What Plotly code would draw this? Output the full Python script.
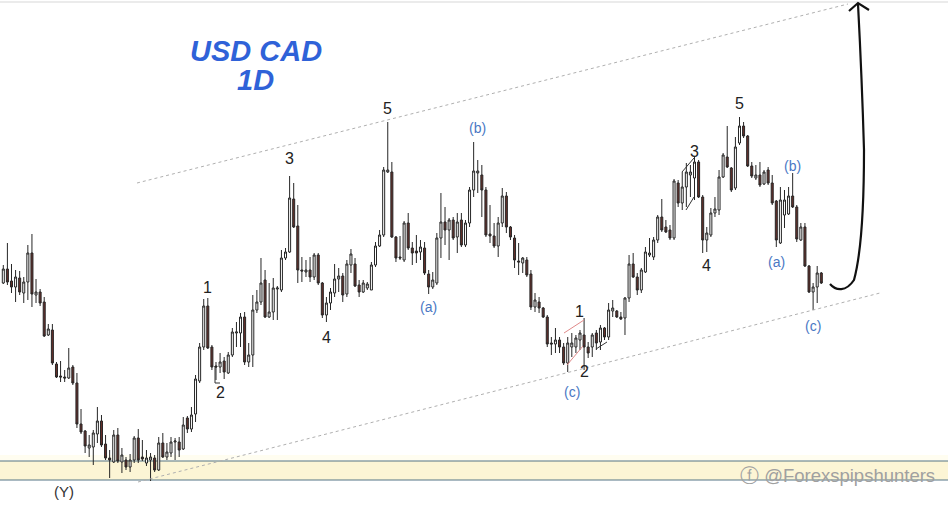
import plotly.graph_objects as go

# ---- Candle data (relative price units, one candle per day) ----
opens = [217,231,219,213,222,207,218,247,205,208,198,165,170,136,124,123,122,133,117,76,
         69,52,53,66,79,56,42,38,65,38,40,33,40,62,43,37,40,42,30,57,
         43,47,58,58,51,82,71,86,119,153,194,153,134,133,139,127,145,167,167,183,
         138,145,190,198,220,183,188,211,210,242,248,301,274,230,228,230,223,245,217,185,
         197,207,221,224,206,235,236,215,208,212,210,235,254,265,328,328,263,243,240,277,
         252,249,248,252,226,213,217,262,278,270,280,263,280,255,277,310,327,325,310,266,
         264,254,277,304,273,262,239,237,240,226,193,198,192,183,157,156,160,153,137,153,
         153,160,165,153,153,167,158,172,163,189,189,183,182,202,236,223,210,228,245,243,
         260,283,273,270,262,317,297,313,325,322,338,303,260,265,287,290,323,343,332,312,
         357,374,364,334,322,325,316,330,317,299,257,285,286,304,293,260,273,234,208,213,
         227]
highs = [235,257,236,230,229,223,255,266,221,211,203,176,176,138,139,130,152,135,127,91,
         70,65,70,93,85,65,50,70,72,52,43,46,64,71,60,50,47,45,63,67,
         57,63,62,63,83,84,93,125,157,201,202,155,138,147,143,148,172,178,187,188,
         157,205,210,242,230,217,222,214,250,252,324,317,295,243,240,243,247,247,218,203,
         212,236,232,227,240,251,242,220,220,218,238,258,270,333,378,338,264,264,279,287,
         258,265,260,258,230,228,267,307,293,282,283,287,287,280,313,358,340,335,313,295,
         277,283,312,308,274,265,257,243,243,230,207,203,193,185,163,172,163,157,163,167,
         165,170,182,158,167,170,175,173,197,200,190,188,203,245,247,227,232,253,262,263,
         285,301,280,275,321,320,328,337,335,343,340,305,273,292,303,330,347,374,333,363,
         383,378,365,338,335,338,330,333,325,300,313,310,313,327,295,277,277,235,217,234,
         228]
lows = [216,215,207,198,205,197,200,193,197,194,163,164,135,122,118,118,121,115,72,66,
        47,43,35,57,53,40,22,37,37,27,30,28,37,37,39,34,19,28,29,42,
        40,43,40,43,50,67,68,78,117,150,151,130,120,127,121,126,143,153,153,135,
        133,133,187,195,182,182,180,180,208,240,247,272,217,218,223,218,220,215,182,178,
        190,203,208,198,203,227,213,203,207,210,210,233,253,263,327,262,238,240,238,250,
        235,237,240,225,206,211,215,242,255,240,260,247,253,253,273,303,307,283,263,257,
        252,243,273,267,260,232,225,227,223,190,188,187,182,153,145,147,147,135,128,143,
        147,150,130,142,143,150,150,160,160,183,182,180,165,198,222,205,207,227,243,240,
        257,268,267,260,260,293,290,293,303,300,302,247,248,263,283,285,322,332,308,310,
        355,362,333,322,320,313,315,315,295,253,256,272,285,292,258,259,233,207,190,197,
        216]
closes = [231,218,213,223,208,218,247,206,208,197,164,171,137,123,123,122,132,117,76,68,
          54,55,67,79,55,42,40,65,39,45,33,40,62,40,41,42,43,30,57,43,
          48,58,59,50,75,71,85,121,153,194,152,133,133,138,128,145,168,168,183,138,
          145,190,198,217,183,188,212,212,242,248,302,273,230,229,230,223,245,217,185,197,
          208,221,224,205,236,246,214,208,217,216,235,254,265,330,330,263,242,242,277,252,
          247,247,253,227,213,220,262,278,270,280,262,278,255,277,310,329,329,310,265,264,
          254,277,304,273,263,240,238,242,225,193,200,192,183,156,156,160,153,137,157,157,
          162,167,153,147,165,157,172,163,190,192,183,181,202,236,223,210,230,248,247,260,
          283,270,268,262,319,297,313,328,328,338,303,260,267,287,291,323,345,333,310,353,
          374,364,334,324,325,315,328,317,297,260,300,300,304,293,261,273,234,208,213,227,
          217]
days = list(range(len(opens)))

# ---- Elliott wave labels: (day, level, text) ----
wave_black = [(50, 213, "1"), (53, 108, "2"), (70, 342, "3"), (79, 163, "4"), (94, 392, "5"),
              (141, 189, "1"), (142, 129, "2"), (169, 349, "3"), (172, 235, "4"), (180, 397, "5")]
wave_blue = [(104, 193, "(a)"), (116, 372, "(b)"), (139, 108, "(c)"),
             (189, 238, "(a)"), (193, 334, "(b)"), (198, 174, "(c)")]

W, H = 948, 509
XR = [-0.81, 230.98]
YR = [-9, 500]


def px(x, y):
    """pixel position on the page -> paper coordinates"""
    return x / W, 1 - y / H


fig = go.Figure()
fig.add_trace(go.Candlestick(
    x=days, open=opens, high=highs, low=lows, close=closes,
    increasing=dict(line=dict(color="#262626", width=1), fillcolor="#ffffff"),
    decreasing=dict(line=dict(color="#262626", width=1), fillcolor="#66302b"),
    whiskerwidth=0, hoverinfo="skip", showlegend=False,
))

shapes = []
# support band at the bottom
x0, y0 = px(0, 455); x1, y1 = px(948, 461)
shapes.append(dict(type="rect", xref="paper", yref="paper", x0=0, x1=1, y0=y1, y1=y0,
                   fillcolor="#fffdf0", line=dict(width=0), layer="below"))
x0, y0 = px(0, 461); x1, y1 = px(948, 480)
shapes.append(dict(type="rect", xref="paper", yref="paper", x0=0, x1=1, y0=y1, y1=y0,
                   fillcolor="#fcf5d5", line=dict(width=0), layer="below"))
for yy in (461, 480):
    _, yp = px(0, yy)
    shapes.append(dict(type="line", xref="paper", yref="paper", x0=0, x1=1, y0=yp, y1=yp,
                       line=dict(color="#557586", width=1), layer="below"))
# top border line
_, yp = px(0, 2)
shapes.append(dict(type="line", xref="paper", yref="paper", x0=0, x1=1, y0=yp, y1=yp,
                   line=dict(color="#e4e4e4", width=1.5), layer="below"))

# channel lines (dotted)
for (ax, ay), (bx, by) in [((137, 183), (848, 4)), ((138, 482), (880, 293))]:
    a = px(ax, ay); b = px(bx, by)
    shapes.append(dict(type="line", xref="paper", yref="paper", x0=a[0], y0=a[1], x1=b[0], y1=b[1],
                       line=dict(color="#b0b0b0", width=1, dash="dot")))

# small wedge lines around the wave 1-2 and 3
for (ax, ay), (bx, by), col in [((564, 333), (584, 320), "#e08a8a"), ((567, 365), (583, 346), "#e08a8a"),
                               ((596, 349), (607, 342), "#333333"),
                               ((682, 172), (694, 158), "#333333"), ((686, 210), (694, 197), "#333333"),
                               ((215, 366), (215, 383), "#333333"), ((215, 383), (220, 383), "#333333")]:
    a = px(ax, ay); b = px(bx, by)
    shapes.append(dict(type="line", xref="paper", yref="paper", x0=a[0], y0=a[1], x1=b[0], y1=b[1],
                       line=dict(color=col, width=1)))

# big projection arrow
pts = [(830, 284), (836, 291), (846, 292), (854, 280), (860, 258), (864, 225), (864, 150),
       (862, 80), (858, 4)]
p = [px(*q) for q in pts]
path = f"M {p[0][0]},{p[0][1]} C {p[1][0]},{p[1][1]} {p[2][0]},{p[2][1]} {p[3][0]},{p[3][1]} " \
       f"C {p[4][0]},{p[4][1]} {p[5][0]},{p[5][1]} {p[6][0]},{p[6][1]} " \
       f"C {p[7][0]},{p[7][1]} {p[7][0]},{p[7][1]} {p[8][0]},{p[8][1]}"
shapes.append(dict(type="path", xref="paper", yref="paper", path=path,
                   line=dict(color="#111111", width=2.2)))
h1 = px(849, 11); h2 = px(858, 3); h3 = px(869, 10)
shapes.append(dict(type="path", xref="paper", yref="paper",
                   path=f"M {h1[0]},{h1[1]} L {h2[0]},{h2[1]} L {h3[0]},{h3[1]}",
                   line=dict(color="#111111", width=2.2)))

FONT = "Liberation Sans, Arial"
annotations = []
for d, lvl, t in wave_black:
    annotations.append(dict(x=d, y=lvl, xref="x", yref="y", text=t, showarrow=False,
                            xanchor="center", yanchor="middle",
                            font=dict(family=FONT, size=16, color="#222222")))
for d, lvl, t in wave_blue:
    annotations.append(dict(x=d, y=lvl, xref="x", yref="y", text=t, showarrow=False,
                            xanchor="center", yanchor="middle",
                            font=dict(family=FONT, size=14, color="#4a78c4")))


def paper_text(x, y, text, size, color):
    xp, yp = px(x, y)
    annotations.append(dict(x=xp, y=yp, xref="paper", yref="paper", text=text, showarrow=False,
                            xanchor="center", yanchor="middle",
                            font=dict(family=FONT, size=size, color=color)))


paper_text(64, 491, "(Y)", 15, "#333333")
paper_text(256, 51, "<b><i>USD CAD</i></b>", 29, "#2f62d8")
paper_text(256, 80, "<b><i>1D</i></b>", 29, "#2f62d8")
paper_text(837, 475, "ⓕ @Forexspipshunters", 18.5, "#a0a0a0")

fig.update_layout(
    width=W, height=H, margin=dict(l=0, r=0, t=0, b=0),
    paper_bgcolor="white", plot_bgcolor="white", showlegend=False,
    xaxis=dict(range=XR, visible=False, rangeslider=dict(visible=False), fixedrange=True),
    yaxis=dict(range=YR, visible=False, fixedrange=True),
    shapes=shapes, annotations=annotations,
)

fig.write_html("out.html", config={"displayModeBar": False},
               post_script="document.body.style.margin='0';document.body.style.overflow='hidden';")
